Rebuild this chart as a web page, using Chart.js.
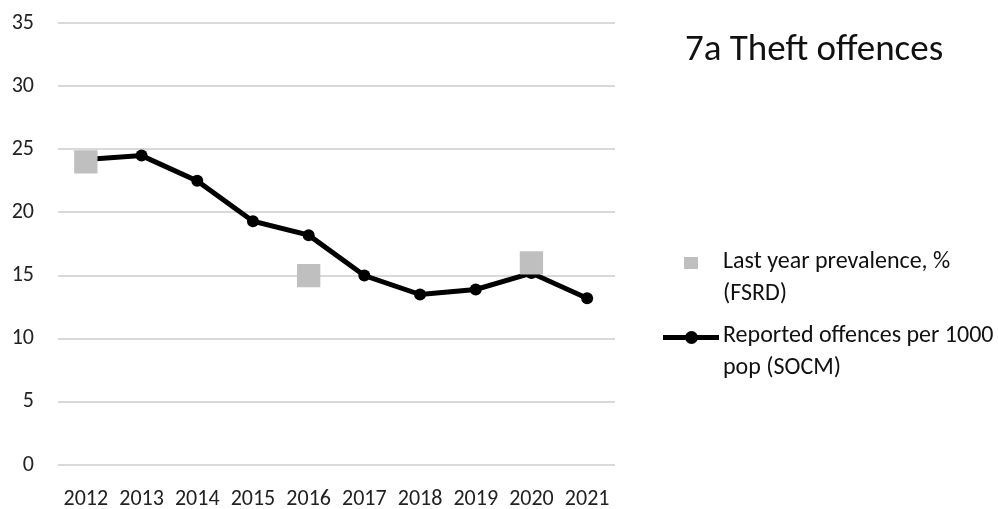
<!DOCTYPE html>
<html>
<head>
<meta charset="utf-8">
<script src="https://cdn.jsdelivr.net/npm/chart.js@4.4.1/dist/chart.umd.min.js"></script>
<style>
  body { margin: 0; background: #fff; }
  #wrap { position: relative; width: 998px; height: 509px; font-family: Carlito, Calibri, Lato, sans-serif; color: #111; }
  #title { position: absolute; left: 685px; top: 29px; font-size: 37px; line-height: 37px; white-space: nowrap; }
  .item { position: absolute; left: 723px; font-size: 24px; line-height: 32px; white-space: nowrap; }
  .sq { position: absolute; width: 14px; height: 12px; background: #bfbfbf; }
  .ln { position: absolute; height: 5px; background: #000; }
  .dot { position: absolute; width: 13px; height: 13px; border-radius: 50%; background: #000; }
</style>
</head>
<body>
<div id="wrap">
  <canvas id="chart" width="998" height="509"></canvas>
  <div id="title"></div>
  <div id="legend"></div>
</div>
<script>
var chartTitle = '7a Theft offences';
var years = ['2012', '2013', '2014', '2015', '2016', '2017', '2018', '2019', '2020', '2021'];
var prevalence = [24, null, null, null, 15, null, null, null, 16, null];
var reported = [24.2, 24.5, 22.5, 19.3, 18.2, 15.0, 13.5, 13.9, 15.2, 13.2];
var seriesNames = ['Last year prevalence, %\n(FSRD)', 'Reported offences per 1000\npop (SOCM)'];
var yTicks = [0, 5, 10, 15, 20, 25, 30, 35];

var tickFont = { family: 'Carlito, Calibri, Lato, sans-serif', size: 22 };

var ctx = document.getElementById('chart').getContext('2d');
var chart = new Chart(ctx, {
  type: 'line',
  data: {
    labels: years,
    datasets: [{
      label: seriesNames[0],
      data: prevalence,
      showLine: false,
      pointStyle: 'rect',
      pointRadius: 16.5,
      pointBackgroundColor: '#bfbfbf',
      pointBorderWidth: 0,
      backgroundColor: '#bfbfbf',
      borderColor: '#bfbfbf'
    }, {
      label: seriesNames[1],
      data: reported,
      borderColor: '#000',
      borderWidth: 5,
      tension: 0,
      pointRadius: 6,
      pointBackgroundColor: '#000',
      pointBorderWidth: 0
    }]
  },
  options: {
    responsive: false,
    animation: false,
    layout: { padding: { left: 0, right: 383, top: 23, bottom: 0 } },
    plugins: { legend: { display: false }, tooltip: { enabled: false } },
    scales: {
      x: {
        offset: true,
        grid: { display: false },
        border: { display: false },
        ticks: { font: tickFont, color: '#222', padding: 13, maxRotation: 0, autoSkip: false },
        afterFit: function(s) { s.height = 44; s.paddingLeft = 0; s.paddingRight = 0; }
      },
      y: {
        min: 0,
        max: 35,
        grid: { color: '#d9d9d9', lineWidth: 2, drawTicks: false },
        border: { display: false },
        ticks: { font: tickFont, color: '#222', padding: 24, stepSize: 5 },
        afterBuildTicks: function(s) { s.ticks = yTicks.map(function(v) { return { value: v }; }); },
        afterFit: function(s) { s.width = 58; s.paddingTop = 0; s.paddingBottom = 0; }
      }
    }
  }
});

// title + legend as html text
document.getElementById('title').textContent = chartTitle;
var legend = document.getElementById('legend');
var tops = [244, 318];
chart.data.datasets.forEach(function(ds, i) {
  var el = document.createElement('div');
  el.className = 'item';
  el.style.top = tops[i] + 'px';
  el.innerHTML = ds.label.split('\n').join('<br>');
  legend.appendChild(el);
  if (i === 0) {
    var sq = document.createElement('div');
    sq.className = 'sq';
    sq.style.left = '684px';
    sq.style.top = (tops[i] + 13) + 'px';
    legend.appendChild(sq);
  } else {
    var ln = document.createElement('div');
    ln.className = 'ln';
    ln.style.left = '663px';
    ln.style.width = '56px';
    ln.style.top = (tops[i] + 17) + 'px';
    legend.appendChild(ln);
    var dot = document.createElement('div');
    dot.className = 'dot';
    dot.style.left = '685px';
    dot.style.top = (tops[i] + 13) + 'px';
    legend.appendChild(dot);
  }
});
</script>
</body>
</html>
